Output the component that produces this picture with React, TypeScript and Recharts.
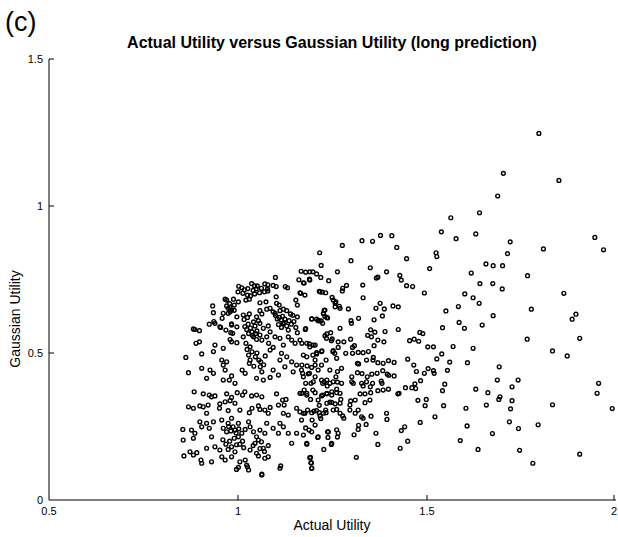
import React from 'react'
import { ScatterChart, Scatter, XAxis, YAxis } from 'recharts'

// [actual utility, gaussian utility] pairs, grouped by region

const sparsePoints: [number, number][] = [
  [1.796, 1.247], [1.702, 1.111], [1.849, 1.087], [1.687, 1.034], [1.639, 0.977], [1.563, 0.96],
  [1.538, 0.912], [1.577, 0.889], [1.629, 0.905], [1.944, 0.893], [1.967, 0.851], [1.72, 0.878],
  [1.713, 0.838], [1.808, 0.854], [1.656, 0.803], [1.675, 0.797], [1.7, 0.797], [1.617, 0.772],
  [1.766, 0.763], [1.64, 0.736], [1.674, 0.736], [1.699, 0.718], [1.6, 0.701], [1.622, 0.688],
  [1.862, 0.703], [1.638, 0.669], [1.583, 0.658], [1.55, 0.643], [1.675, 0.627], [1.776, 0.649],
  [1.894, 0.632], [1.884, 0.615], [1.585, 0.604], [1.646, 0.595], [1.541, 0.586], [1.599, 0.584],
  [1.765, 0.547], [1.904, 0.55], [1.569, 0.522], [1.622, 0.516], [1.832, 0.507], [1.871, 0.49],
  [1.539, 0.497], [1.56, 0.469], [1.607, 0.467], [1.691, 0.453], [1.554, 0.441], [1.686, 0.408],
  [1.741, 0.408], [1.725, 0.385], [1.954, 0.397], [1.95, 0.363], [1.547, 0.394], [1.541, 0.372],
  [1.629, 0.377], [1.661, 0.365], [1.693, 0.351], [1.69, 0.342], [1.725, 0.338], [1.657, 0.323],
  [1.544, 0.321], [1.603, 0.312], [1.721, 0.31], [1.832, 0.324], [1.99, 0.311], [1.718, 0.266],
  [1.606, 0.252], [1.742, 0.243], [1.794, 0.256], [1.673, 0.226], [1.588, 0.202], [1.635, 0.172],
  [1.745, 0.169], [1.904, 0.156], [1.78, 0.125], [1.524, 0.841], [1.526, 0.828], [1.526, 0.48],
  [1.521, 0.283],
]

const middlePoints: [number, number][] = [
  [1.377, 0.9], [1.407, 0.899], [1.328, 0.882], [1.356, 0.88], [1.276, 0.866], [1.42, 0.859],
  [1.216, 0.841], [1.299, 0.814], [1.446, 0.821], [1.22, 0.798], [1.35, 0.79], [1.507, 0.787],
  [1.263, 0.776], [1.393, 0.776], [1.167, 0.778], [1.179, 0.775], [1.19, 0.776], [1.198, 0.776],
  [1.208, 0.769], [1.366, 0.755], [1.37, 0.758], [1.428, 0.764], [1.432, 0.748], [1.173, 0.739],
  [1.19, 0.748], [1.219, 0.757], [1.24, 0.746], [1.287, 0.73], [1.277, 0.72], [1.276, 0.711],
  [1.33, 0.731], [1.446, 0.729], [1.462, 0.726], [1.493, 0.704], [1.166, 0.703], [1.215, 0.71],
  [1.223, 0.707], [1.232, 0.705], [1.331, 0.688], [1.249, 0.689], [1.252, 0.68], [1.257, 0.669],
  [1.268, 0.659], [1.292, 0.65], [1.376, 0.669], [1.365, 0.652], [1.387, 0.65], [1.41, 0.66],
  [1.424, 0.657], [1.228, 0.645], [1.226, 0.634], [1.23, 0.624], [1.237, 0.619], [1.195, 0.616],
  [1.212, 0.61], [1.22, 0.609], [1.382, 0.626], [1.299, 0.61], [1.3, 0.601], [1.319, 0.618],
  [1.36, 0.613], [1.179, 0.583], [1.351, 0.579], [1.362, 0.571], [1.389, 0.573], [1.424, 0.58],
  [1.23, 0.559], [1.249, 0.548], [1.265, 0.538], [1.28, 0.538], [1.343, 0.56], [1.353, 0.555],
  [1.298, 0.547], [1.308, 0.525], [1.303, 0.519], [1.37, 0.544], [1.386, 0.538], [1.454, 0.542],
  [1.466, 0.547], [1.478, 0.54], [1.489, 0.566], [1.481, 0.57], [1.502, 0.521], [1.517, 0.521],
  [1.36, 0.525], [1.449, 0.479], [1.465, 0.459], [1.503, 0.447], [1.517, 0.44], [1.519, 0.431],
  [1.493, 0.431], [1.472, 0.437], [1.483, 0.406], [1.468, 0.395], [1.47, 0.379], [1.46, 0.382],
  [1.443, 0.382], [1.426, 0.363], [1.423, 0.361], [1.498, 0.342], [1.495, 0.321], [1.476, 0.339],
  [1.482, 0.264], [1.441, 0.249], [1.432, 0.236], [1.449, 0.2], [1.429, 0.176], [1.37, 0.189],
  [1.365, 0.227], [1.393, 0.295], [1.394, 0.274], [1.352, 0.285], [1.313, 0.145], [1.192, 0.145],
  [1.194, 0.126], [1.195, 0.108], [1.227, 0.172], [1.247, 0.189], [1.182, 0.19], [1.211, 0.213],
  [1.238, 0.213], [1.263, 0.214], [1.307, 0.222], [1.318, 0.24], [1.319, 0.254], [1.339, 0.257],
  [1.261, 0.239], [1.237, 0.232], [1.188, 0.238], [1.179, 0.245], [1.222, 0.507], [1.208, 0.497],
  [1.251, 0.505], [1.256, 0.499], [1.285, 0.499], [1.303, 0.499], [1.318, 0.502], [1.331, 0.501],
  [1.345, 0.505], [1.358, 0.485], [1.357, 0.476], [1.316, 0.465], [1.319, 0.463], [1.34, 0.476],
  [1.37, 0.467], [1.384, 0.465], [1.398, 0.474], [1.413, 0.468], [1.383, 0.44], [1.395, 0.428],
  [1.399, 0.424], [1.413, 0.422], [1.354, 0.428], [1.368, 0.431], [1.328, 0.43], [1.316, 0.433],
  [1.342, 0.419], [1.34, 0.402], [1.379, 0.404], [1.381, 0.397], [1.356, 0.397], [1.35, 0.385],
  [1.301, 0.402], [1.305, 0.397], [1.327, 0.397], [1.331, 0.388], [1.37, 0.372], [1.398, 0.377],
  [1.384, 0.374], [1.351, 0.365], [1.336, 0.361], [1.323, 0.361], [1.349, 0.34], [1.336, 0.331],
  [1.31, 0.34], [1.298, 0.337], [1.296, 0.323], [1.272, 0.342], [1.27, 0.329], [1.243, 0.333],
  [1.257, 0.327], [1.224, 0.357], [1.235, 0.363], [1.248, 0.368], [1.261, 0.377], [1.27, 0.363],
  [1.259, 0.419], [1.263, 0.401], [1.274, 0.397], [1.301, 0.419], [1.243, 0.397], [1.236, 0.388],
  [1.228, 0.402], [1.224, 0.397], [1.221, 0.408], [1.199, 0.402], [1.193, 0.397], [1.198, 0.374],
  [1.204, 0.365], [1.179, 0.397], [1.175, 0.374], [1.169, 0.363], [1.182, 0.363], [1.192, 0.342],
  [1.212, 0.34], [1.215, 0.322], [1.201, 0.302], [1.184, 0.306], [1.173, 0.295], [1.168, 0.272],
  [1.215, 0.297], [1.233, 0.297], [1.219, 0.277], [1.232, 0.306], [1.261, 0.308], [1.27, 0.295],
  [1.277, 0.286], [1.28, 0.278], [1.296, 0.306], [1.31, 0.295], [1.318, 0.306], [1.327, 0.283],
  [1.331, 0.278], [1.204, 0.255], [1.196, 0.272], [1.169, 0.533], [1.189, 0.531], [1.204, 0.527],
  [1.198, 0.493], [1.173, 0.493], [1.169, 0.459], [1.183, 0.456], [1.204, 0.459], [1.189, 0.431],
  [1.204, 0.419], [1.171, 0.431], [1.263, 0.437], [1.274, 0.448],
]

const clusterUpper: [number, number][] = [
  [1.099, 0.757], [1.161, 0.749], [1.175, 0.738], [1.189, 0.751], [1.002, 0.727], [1.01, 0.722],
  [1.026, 0.719], [1.036, 0.736], [1.044, 0.728], [1.051, 0.728], [1.071, 0.735], [1.079, 0.732],
  [1.093, 0.73], [1.101, 0.726], [1.125, 0.726], [1.131, 0.722], [1.078, 0.718], [1.0, 0.708],
  [1.013, 0.703], [1.025, 0.697], [1.033, 0.694], [1.044, 0.701], [1.057, 0.705], [1.07, 0.708],
  [1.079, 0.711], [1.101, 0.691], [1.164, 0.705], [1.177, 0.697], [1.217, 0.708], [1.259, 0.674],
  [0.988, 0.683], [0.97, 0.68], [1.001, 0.674], [1.021, 0.68], [1.03, 0.683], [1.058, 0.671],
  [1.074, 0.674], [1.102, 0.669], [1.109, 0.663], [1.153, 0.68], [1.157, 0.663], [1.257, 0.657],
  [1.23, 0.646], [1.27, 0.652], [0.933, 0.66], [0.935, 0.637], [0.979, 0.655], [0.983, 0.646],
  [0.974, 0.635], [0.961, 0.635], [0.997, 0.623], [1.03, 0.633], [1.058, 0.644], [1.063, 0.633],
  [1.076, 0.649], [1.049, 0.623], [1.085, 0.652], [1.098, 0.635], [1.111, 0.644], [1.12, 0.649],
  [1.129, 0.644], [1.139, 0.633], [1.145, 0.628], [1.157, 0.623], [1.226, 0.635], [1.235, 0.621],
  [1.208, 0.615], [0.924, 0.598], [0.939, 0.601], [0.886, 0.58], [0.898, 0.576], [0.954, 0.587],
  [0.968, 0.578], [0.983, 0.595], [0.981, 0.569], [1.016, 0.614], [1.041, 0.606], [1.023, 0.58],
  [1.037, 0.572], [1.054, 0.61], [1.058, 0.601], [1.067, 0.584], [1.08, 0.592], [1.085, 0.572],
  [1.109, 0.621], [1.115, 0.612], [1.122, 0.603], [1.129, 0.592], [1.115, 0.587], [1.133, 0.578],
  [1.153, 0.587], [1.157, 0.569], [1.178, 0.58], [1.195, 0.616], [1.215, 0.61], [1.224, 0.601],
  [1.235, 0.565], [1.245, 0.569], [1.27, 0.584], [0.882, 0.582], [0.936, 0.607], [0.966, 0.683],
  [0.974, 0.652], [0.979, 0.64], [0.952, 0.589], [0.958, 0.618], [0.983, 0.599], [0.986, 0.567],
  [0.997, 0.589], [1.014, 0.629], [1.025, 0.621],
]

const clusterMiddle: [number, number][] = [
  [0.862, 0.485], [0.889, 0.533], [0.898, 0.538], [0.904, 0.497], [0.935, 0.505], [0.939, 0.527],
  [0.961, 0.516], [0.979, 0.546], [0.983, 0.538], [0.997, 0.535], [1.014, 0.555], [1.021, 0.533],
  [1.024, 0.512], [1.032, 0.521], [1.041, 0.555], [1.049, 0.546], [1.058, 0.561], [1.063, 0.544],
  [1.076, 0.555], [1.081, 0.533], [1.085, 0.51], [1.093, 0.519], [1.098, 0.555], [1.111, 0.55],
  [1.12, 0.527], [1.133, 0.555], [1.142, 0.544], [1.151, 0.533], [1.164, 0.544], [1.182, 0.533],
  [1.19, 0.521], [1.199, 0.527], [1.208, 0.501], [1.221, 0.505], [1.234, 0.55], [1.247, 0.542],
  [1.252, 0.508], [1.265, 0.519], [0.869, 0.433], [0.904, 0.448], [0.926, 0.442], [0.917, 0.414],
  [0.935, 0.431], [0.957, 0.476], [0.961, 0.459], [0.97, 0.47], [0.966, 0.442], [0.983, 0.422],
  [0.977, 0.408], [0.992, 0.397], [0.961, 0.408], [1.011, 0.442], [1.019, 0.431], [1.028, 0.493],
  [1.032, 0.476], [1.037, 0.504], [1.046, 0.487], [1.055, 0.476], [1.059, 0.453], [1.063, 0.436],
  [1.049, 0.414], [1.067, 0.408], [1.085, 0.417], [1.093, 0.442], [1.107, 0.425], [1.111, 0.476],
  [1.115, 0.499], [1.129, 0.487], [1.124, 0.453], [1.142, 0.47], [1.146, 0.436], [1.155, 0.459],
  [1.168, 0.442], [1.173, 0.419], [1.186, 0.429], [1.195, 0.451], [1.204, 0.476], [1.212, 0.442],
  [1.221, 0.459], [1.235, 0.408], [1.243, 0.442], [1.252, 0.402], [1.261, 0.482], [1.233, 0.476],
  [1.182, 0.487], [0.884, 0.368], [0.908, 0.361], [0.924, 0.357], [0.93, 0.351], [0.939, 0.354],
  [0.97, 0.361], [0.983, 0.349], [0.998, 0.365], [1.012, 0.357], [1.018, 0.368], [1.036, 0.354],
  [1.049, 0.357], [1.063, 0.351], [1.102, 0.361], [1.118, 0.34], [1.127, 0.342], [1.164, 0.363],
  [1.182, 0.357], [1.221, 0.354], [1.235, 0.361], [1.248, 0.357], [1.261, 0.365],
]

const clusterLower: [number, number][] = [
  [0.869, 0.317], [0.882, 0.312], [0.899, 0.32], [0.908, 0.317], [0.921, 0.323], [0.917, 0.295],
  [0.952, 0.327], [0.951, 0.312], [0.966, 0.334], [0.979, 0.338], [0.992, 0.329], [0.974, 0.304],
  [1.005, 0.306], [1.03, 0.297], [1.037, 0.312], [1.054, 0.32], [1.058, 0.308], [1.071, 0.306],
  [1.08, 0.295], [1.085, 0.315], [1.107, 0.323], [1.122, 0.323], [1.12, 0.295], [1.133, 0.289],
  [1.155, 0.312], [1.164, 0.3], [1.177, 0.295], [1.195, 0.297], [1.208, 0.304], [1.217, 0.286],
  [1.226, 0.295], [1.235, 0.329], [1.248, 0.332], [1.252, 0.306], [0.854, 0.24], [0.855, 0.204],
  [0.877, 0.238], [0.886, 0.227], [0.882, 0.21], [0.899, 0.266], [0.904, 0.249], [0.917, 0.261],
  [0.924, 0.244], [0.935, 0.266], [0.93, 0.215], [0.957, 0.272], [0.961, 0.244], [0.97, 0.232],
  [0.974, 0.261], [0.983, 0.278], [0.987, 0.249], [0.992, 0.238], [1.001, 0.261], [1.001, 0.215],
  [1.01, 0.227], [1.019, 0.24], [1.028, 0.266], [1.032, 0.249], [1.041, 0.232], [1.049, 0.215],
  [1.054, 0.204], [1.058, 0.238], [1.071, 0.227], [1.076, 0.261], [1.093, 0.244], [1.107, 0.227],
  [1.111, 0.261], [1.12, 0.249], [1.133, 0.227], [1.142, 0.193], [1.155, 0.227], [1.173, 0.221],
  [1.182, 0.193], [1.195, 0.232], [1.212, 0.215], [1.239, 0.232], [1.248, 0.193], [1.265, 0.227],
  [0.857, 0.15], [0.873, 0.164], [0.882, 0.153], [0.891, 0.161], [0.902, 0.136], [0.904, 0.125],
  [0.917, 0.176], [0.93, 0.13], [0.939, 0.181], [0.952, 0.17], [0.957, 0.147], [0.966, 0.136],
  [0.974, 0.172], [0.983, 0.181], [0.983, 0.147], [0.992, 0.164], [1.005, 0.19], [1.005, 0.13],
  [1.019, 0.136], [1.023, 0.119], [1.028, 0.102], [1.032, 0.17], [1.045, 0.193], [1.049, 0.159],
  [1.054, 0.15], [1.067, 0.176], [1.071, 0.142], [1.08, 0.147], [1.063, 0.085], [1.111, 0.108],
  [1.113, 0.116], [1.19, 0.144], [1.193, 0.127], [1.195, 0.108], [1.025, 0.113], [1.001, 0.111],
  [0.996, 0.104], [1.063, 0.088],
]

// the darkest blobs, where markers pile on top of each other
const clusterDense: [number, number][] = [
  [1.093, 0.64], [1.099, 0.628], [1.104, 0.616], [1.118, 0.625], [1.124, 0.615], [1.135, 0.61],
  [1.141, 0.598], [1.148, 0.607], [1.119, 0.6], [1.107, 0.597], [1.018, 0.59], [1.027, 0.598],
  [1.033, 0.585], [1.045, 0.592], [1.05, 0.575], [1.038, 0.56], [1.028, 0.566], [1.047, 0.566],
  [1.04, 0.713], [1.048, 0.718], [1.062, 0.72], [1.017, 0.715], [0.975, 0.25], [0.981, 0.235],
  [0.995, 0.228], [1.002, 0.242], [0.99, 0.21], [0.978, 0.2], [0.968, 0.19], [0.96, 0.205],
  [0.996, 0.188], [1.012, 0.2], [1.015, 0.178], [1.04, 0.185], [1.058, 0.175], [1.062, 0.198],
  [1.07, 0.165], [1.08, 0.185], [1.03, 0.465], [1.042, 0.455], [1.05, 0.5], [1.06, 0.47],
  [1.068, 0.46], [1.072, 0.49], [0.97, 0.66], [0.978, 0.668], [0.99, 0.663], [0.99, 0.645],
]

const xTicks = [0.5, 1, 1.5, 2]
const yTicks = [0, 0.5, 1, 1.5]

const font = '"Liberation Sans", Arial, Helvetica, sans-serif'

const points = [
  ...sparsePoints,
  ...middlePoints,
  ...clusterUpper,
  ...clusterMiddle,
  ...clusterLower,
  ...clusterDense,
].map(([x, y]) => ({ x, y }))

const OpenCircle = (props: any) => (
  <circle cx={props.cx} cy={props.cy} r={1.9} fill="none" stroke="#000" strokeWidth={1.4} />
)

const XTick = ({ x, y, payload }: any) => (
  <g>
    {payload.value !== 0.5 && <line x1={x} x2={x} y1={y} y2={y - 5} stroke="#000" />}
    <text x={x} y={y + 15} textAnchor="middle" fontSize={11} fontFamily={font} fill="#000">
      {payload.value}
    </text>
  </g>
)

const YTick = ({ x, y, payload }: any) => (
  <g>
    {payload.value !== 0 && <line x1={x} x2={x + 5} y1={y} y2={y} stroke="#000" />}
    <text x={x - 6} y={y + 4} textAnchor="end" fontSize={11} fontFamily={font} fill="#000">
      {payload.value}
    </text>
  </g>
)

export default function App() {
  return (
    <div style={{ position: 'absolute', left: 0, top: 0, width: 618, height: 537, background: '#fff' }}>
      <ScatterChart width={618} height={537} margin={{ top: 59, right: 2, bottom: 0, left: 0 }}>
        <XAxis
          type="number"
          dataKey="x"
          domain={[0.5, 2]}
          ticks={xTicks}
          height={37}
          tickSize={0}
          tickMargin={0}
          tick={<XTick />}
          axisLine={{ stroke: '#000' }}
          allowDataOverflow
        />
        <YAxis
          type="number"
          dataKey="y"
          domain={[0, 1.5]}
          ticks={yTicks}
          width={49}
          tickSize={0}
          tickMargin={0}
          tick={<YTick />}
          axisLine={{ stroke: '#000' }}
          allowDataOverflow
        />
        <Scatter data={points} shape={<OpenCircle />} isAnimationActive={false} />
      </ScatterChart>
      <svg
        width={618}
        height={537}
        style={{ position: 'absolute', left: 0, top: 0, pointerEvents: 'none' }}
        fontFamily={font}
      >
        <text x={5} y={31} fontSize={27}>(c)</text>
        <text x={332} y={48} fontSize={16} fontWeight="bold" textAnchor="middle">
          Actual Utility versus Gaussian Utility (long prediction)
        </text>
        <text x={332} y={530} fontSize={14} textAnchor="middle">Actual Utility</text>
        <text x={20} y={319} fontSize={14} textAnchor="middle" transform="rotate(-90 20 319)">
          Gaussian Utility
        </text>
      </svg>
    </div>
  )
}
